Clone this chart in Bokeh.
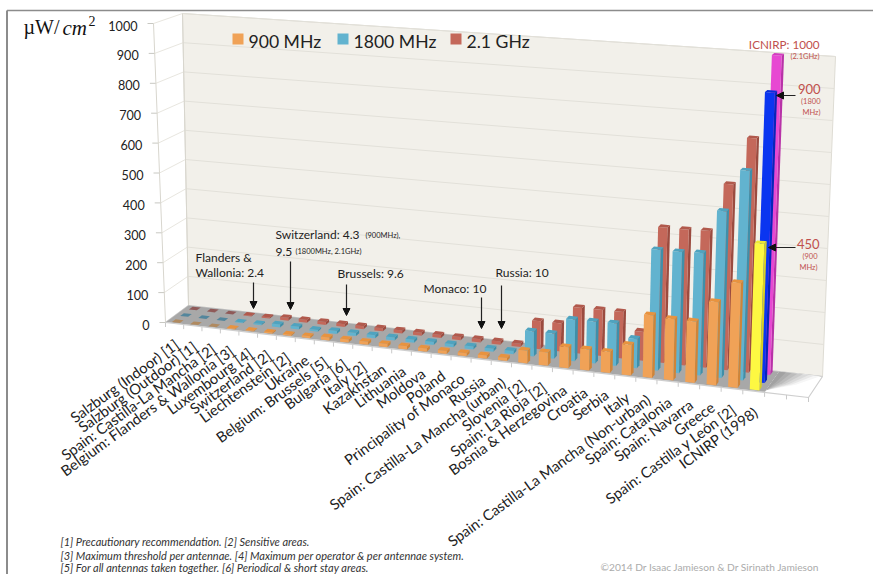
from bokeh.plotting import figure
from bokeh.models import Range1d, Arrow, NormalHead, ColumnDataSource
from bokeh.core.properties import value
from bokeh.embed import file_html
from bokeh.resources import INLINE
import math

categories = ["Salzburg (Indoor) [1]", "Salzburg (Outdoor) [1]", "Spain: Castilla-La Mancha [2]",
              "Belgium: Flanders & Wallonia [3]", "Luxembourg [4]", "Switzerland [2]", "Liechtenstein [2]",
              "Ukraine", "Belgium: Brussels [5]", "Bulgaria [6]", "Italy [2]", "Kazakhstan", "Lithuania",
              "Moldova", "Poland", "Principality of Monaco", "Russia", "Spain: Castilla-La Mancha (urban)",
              "Slovenia [2]", "Spain: La Rioja [2]", "Bosnia & Herzegovina", "Croatia", "Serbia", "Italy",
              "Spain: Castilla-La Mancha (Non-urban)", "Spain: Catalonia", "Spain: Navarra", "Greece",
              "Spain: Castilla y León [2]", "ICNIRP (1998)"]
mhz900 = [0.1, 0.1, 0.1, 2.4, 2.4, 4.3, 4.3, 6, 9.6, 10, 10, 10, 10, 10, 10, 10, 10, 10,
          40, 42, 66, 66, 66, 95, 195, 190, 190, 257, 323, 450]
mhz1800 = [0.1, 0.1, 0.1, 2.4, 4, 9.5, 9.5, 6, 9.6, 10, 10, 10, 10, 10, 10, 10, 10, 10,
           80, 80, 132, 133, 134, 92, 380, 380, 383, 520, 652, 900]
ghz21 = [0.1, 0.1, 0.1, 2.4, 4, 9.5, 9.5, 10, 9.6, 10, 10, 10, 10, 10, 10, 10, 10, 10,
         90, 90, 147, 148, 148, 92, 430, 430, 432, 585, 735, 1000]
y_ticks = [0, 100, 200, 300, 400, 500, 600, 700, 800, 900, 1000]
n_slots = 32

W, H = 873, 574
FONT = value("Lato")

p = figure(width=W, height=H, x_range=Range1d(0, W), y_range=Range1d(H, 0),
           output_backend="svg", toolbar_location=None, min_border=0, outline_line_color=None)
p.axis.visible = False
p.grid.visible = False
p.background_fill_color = "white"

FL, FR, BL, BR = (165, 322), (808, 397), (188, 305), (822, 376)
UFL, UFR, UBL, UBR = (-12, -299), (13, -328), (-6, -292), (13, -320)
CURVE = 0.11


def lerp(a, b, k):
    return (a[0] + (b[0] - a[0]) * k, a[1] + (b[1] - a[1]) * k)


def P(t, d, v):
    s = t / n_slots
    u = s * (1 + CURVE * s) / (1 + CURVE)
    floor = lerp(lerp(FL, FR, u), lerp(BL, BR, u), d)
    up = lerp(lerp(UFL, UFR, u), lerp(UBL, UBR, u), d)
    k = v / 1000
    return floor[0] + up[0] * k, floor[1] + up[1] * k


def poly(pts, color, store):
    store["xs"].append([q[0] for q in pts])
    store["ys"].append([q[1] for q in pts])
    store["c"].append(color)


# frame
p.line([6.5, 6.5], [574, 10], line_color="#8c8c8c", line_width=2)
p.line([6.5, 873], [10, 10], line_color="#8c8c8c", line_width=1.6)

# walls
walls = dict(xs=[], ys=[], c=[])
poly([P(0, 1, 0), P(n_slots, 1, 0), P(n_slots, 1, 1000), P(0, 1, 1000)], "#f2f0ea", walls)
p.patches("xs", "ys", fill_color="c", line_color="#dedcd4", line_width=1, source=ColumnDataSource(walls))
for v in y_ticks:
    a, b, c = P(0, 0, v), P(0, 1, v), P(n_slots, 1, v)
    p.line([a[0], b[0]], [a[1], b[1]], line_color="#e8e6df", line_width=1)
    p.line([b[0], c[0]], [b[1], c[1]], line_color="#e2e0d9", line_width=1)
    p.line([a[0] - 6, a[0]], [a[1], a[1]], line_color="#c8c8c2", line_width=1)
a, b = P(0, 0, 0), P(0, 0, 1000)
p.line([a[0], b[0]], [a[1], b[1]], line_color="#d8d6ce", line_width=1)
a, b = P(0, 1, 0), P(0, 1, 1000)
p.line([a[0], b[0]], [a[1], b[1]], line_color="#d8d6ce", line_width=1)

# floor
floor = dict(xs=[], ys=[], c=[])
poly([P(0, 0, 0), P(n_slots, 0, 0), P(n_slots, 1, 0), P(0, 1, 0)], "#ffffff", floor)
p.patches("xs", "ys", fill_color="c", line_color="#cfcfcf", line_width=1.2, source=ColumnDataSource(floor))
gray = dict(xs=[], ys=[], c=[])
poly([P(0, 0.03, 0), P(30, 0.03, 0), P(30, 1, 0), P(0, 1, 0)], "#a8a8a8", gray)
shades = ["#f6f6f6", "#e8e8e8", "#dadada", "#cbcbcb", "#bcbcbc", "#aeaeae", "#a2a2a2"]
for step, col in zip([1.0, 0.86, 0.72, 0.58, 0.44, 0.3, 0.16], shades):
    poly([P(30, 0.1, 0), P(30 + step * 1.1, 0.5, 0), P(30 + step * 1.9, 1, 0), P(30, 1, 0)], col, gray)
p.patches("xs", "ys", fill_color="c", line_color=None, source=ColumnDataSource(gray))
for t in range(n_slots + 1):
    a = P(t, 0, 0)
    p.line([a[0], a[0]], [a[1], a[1] + 4.5], line_color="#c9c9c9", line_width=1)

# bars
HALF_W, HALF_D = 0.22, 0.08


def bars(values, depth, colors):
    faces = dict(xs=[], ys=[], c=[])
    for i, v in enumerate(values):
        col = colors[i]
        t0, t1 = i + 0.5 - HALF_W, i + 0.5 + HALF_W
        d0, d1 = depth - HALF_D, depth + HALF_D
        poly([P(t1, d0, 0), P(t1, d1, 0), P(t1, d1, v), P(t1, d0, v)], col[1], faces)
        poly([P(t0, d0, 0), P(t1, d0, 0), P(t1, d0, v), P(t0, d0, v)], col[0], faces)
        poly([P(t0, d0, v), P(t1, d0, v), P(t1, d1, v), P(t0, d1, v)], col[2], faces)
    p.patches("xs", "ys", fill_color="c", line_color=None, source=ColumnDataSource(faces))


ORANGE = ("#f0a257", "#cf8438", "#e8933f")
BLUE = ("#62b3cf", "#3f8fa9", "#4fa3bf")
RED = ("#c4685a", "#9b4b3f", "#b1594c")
ORANGE_DIM = ("#b08a60", "#b08a60", "#b08a60")
BLUE_DIM = ("#53869c", "#53869c", "#53869c")
RED_DIM = ("#8f5a58", "#8f5a58", "#8f5a58")
bars(ghz21, 0.88, [RED_DIM] * 3 + [RED] * 26 + [("#e748d2", "#b832a8", "#d23cc0")])
bars(mhz1800, 0.5, [BLUE_DIM] * 3 + [BLUE] * 26 + [("#0a35f0", "#0726b8", "#0a2fd8")])
bars(mhz900, 0.14, [ORANGE_DIM] * 3 + [ORANGE] * 26 + [("#fdf842", "#d8cf25", "#eee835")])


def label(x, y, txt, size, color="#222222", align="left", style="normal", angle=0.0, font=FONT):
    p.text([x], [y], text=[txt], text_font=font, text_font_size=f"{size}px", text_color=color,
           text_align=align, text_baseline="middle", text_font_style=style, angle=angle)


# value axis labels
for v in y_ticks:
    a = P(0, 0, v)
    label(a[0] - 16, a[1] + 2, str(v), 12.6, "#222222", "right")

# category labels
for i, name in enumerate(categories):
    a = P(i + 0.5, 0, 0)
    label(a[0] + 2, a[1] + 19, name, 14.7, "#222222", "right", angle=math.radians(36))

# axis unit
label(23, 26, "µW/", 20, "#111111", font=value("Liberation Serif"))
label(62, 27, "cm", 21, "#111111", style="italic", font=value("Liberation Serif"))
label(88, 20, "2", 14, "#111111", font=value("Liberation Serif"))

# legend
for x, col, txt in [(232, "#f0a257", "900 MHz"), (337, "#62b3cf", "1800 MHz"), (450, "#c4685a", "2.1 GHz")]:
    p.scatter([x + 5.5], [38.5], marker="square", size=11, fill_color=col, line_color=None)
    label(x + 16, 41, txt, 17.6, "#222222")

# annotations
label(195, 257, "Flanders &", 12)
label(195, 272, "Wallonia: 2.4", 12)
label(275, 234, "Switzerland: 4.3", 12)
label(365, 235, "(900MHz),", 7.5)
label(275, 251, "9.5", 12)
label(295, 251, "(1800MHz, 2.1GHz)", 7.5)
label(337, 273, "Brussels: 9.6", 12)
label(423, 288, "Monaco: 10", 12)
label(495, 272, "Russia: 10", 12)
for x, y0, y1 in [(253, 282, 308), (290, 261, 309), (346, 284, 315), (481, 297, 328), (501, 285, 328)]:
    p.add_layout(Arrow(end=NormalHead(size=7, fill_color="#111111", line_color="#111111"),
                       x_start=x, y_start=y0, x_end=x, y_end=y1, line_color="#222222", line_width=1.2))
for x0, x1, y in [(795, 776, 95), (795, 768, 247)]:
    p.add_layout(Arrow(end=NormalHead(size=7, fill_color="#111111", line_color="#111111"),
                       x_start=x0, y_start=y, x_end=x1, y_end=y, line_color="#222222", line_width=1.2))

RED_T = "#c0504d"
label(819, 43, "ICNIRP: 1000", 11.7, RED_T, "right")
label(819, 56, "(2.1GHz)", 7.5, RED_T, "right")
label(820, 88, "900", 13, RED_T, "right")
label(820, 101, "(1800", 7.5, RED_T, "right")
label(820, 112, "MHz)", 7.5, RED_T, "right")
label(819, 243, "450", 13, RED_T, "right")
label(817, 256, "(900", 7.5, RED_T, "right")
label(817, 267, "MHz)", 7.5, RED_T, "right")

# notes
label(60, 541, "[1] Precautionary recommendation. [2] Sensitive areas.", 11, "#333333", style="italic")
label(60, 554.5, "[3] Maximum threshold per antennae. [4] Maximum per operator & per antennae system.", 11, "#333333", style="italic")
label(60, 566.5, "[5] For all antennas taken together. [6] Periodical & short stay areas.", 11, "#333333", style="italic")
label(600, 566.5, "©2014 Dr Isaac Jamieson & Dr Sirinath Jamieson", 10.2, "#ababab")

open("out.html", "w").write(file_html(p, INLINE))
